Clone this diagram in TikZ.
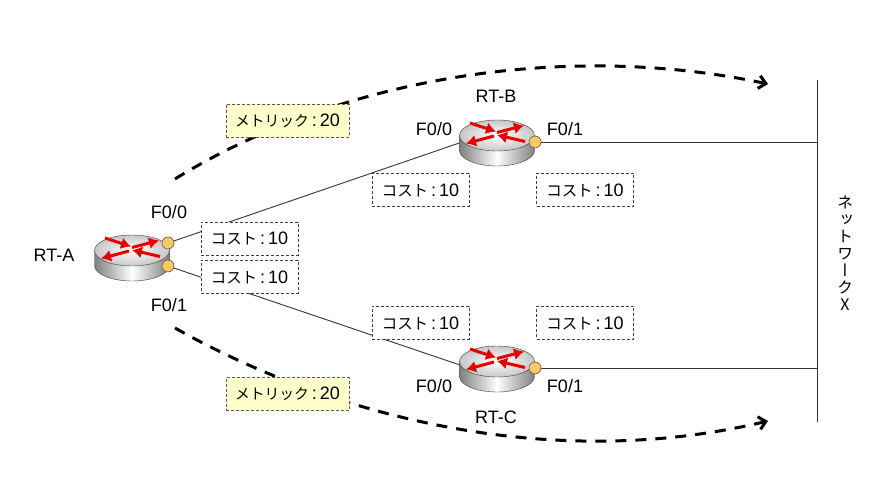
\documentclass[tikz,border=0pt]{standalone}
\usepackage{fontspec}
\setmainfont{Liberation Sans}
\newfontfamily\cjk[Scale=0.86]{Noto Sans CJK JP}
\newfontfamily\cjkm[Scale=0.82]{Noto Sans CJK JP}
\newfontfamily\cjkv[RawFeature=+vert]{Noto Sans CJK JP}
\usetikzlibrary{arrows.meta}
\definecolor{PortOrange}{RGB}{253,200,100}
\definecolor{NoteYellow}{RGB}{255,255,204}
\tikzset{
    every node/.style={font=\fontsize{18}{20}\selectfont},
    routerbox/.style={minimum width=75pt, minimum height=46pt, inner sep=0pt},
    port/.style={circle, draw=black!75, fill=PortOrange, minimum size=12pt, inner sep=0pt},
    link/.style={draw=black!80, line width=0.9pt},
    costbox/.style={draw=black!75, densely dashed, fill=white, minimum width=97pt, minimum height=33pt, inner sep=0pt},
    metricbox/.style={draw=black!65, densely dashed, fill=NoteYellow, minimum width=123pt, minimum height=33pt, inner sep=0pt},
    flow/.style={line width=3pt, dash pattern=on 11pt off 9pt, -{Straight Barb[length=7pt, width=13pt, line width=3pt]}},
    pics/router/.style={code={
        \draw[black!75, left color=black!50, right color=black!50, middle color=white]
            (-37.5,-7.5) -- (-37.5,7.5) arc[start angle=180, end angle=0, x radius=37.5, y radius=15.5]
            -- (37.5,-7.5) -- cycle;
        \draw[black!75, inner color=white, outer color=black!22] (0,-7.5) ellipse[x radius=37.5, y radius=15.5];
        \foreach \ax/\ay/\bx/\by in {-27/-20/-1/-11.5, 0/-10.5/27/-17.5, -3/-7/-31/0.5, 28/-1.5/0/-8}
            \draw[red!90!black, line width=3pt, -{Latex[length=10pt, width=12pt]}] (\ax,\ay) -- (\bx,\by);
    }},
}
\newcommand{\costtext}{{\cjk コスト}\,:\,10}
\newcommand{\metrictext}{{\cjkm メトリック}\,:\,20}
\begin{document}
\begin{tikzpicture}[x=1pt, y=-1pt]
    \useasboundingbox (0,0) rectangle (881,486);

    \node (rt-a) at (132,258)[routerbox] {};
    \node (rt-b) at (497,143)[routerbox] {};
    \node (rt-c) at (497,369)[routerbox] {};
    \coordinate (rt-c-in) at (460,365);
    \node (a-f0) at (168,243)[port] {};
    \node (a-f1) at (168,266)[port] {};
    \node (b-f1) at (535,142)[port] {};
    \node (c-f1) at (535,368)[port] {};

    \coordinate (net-top) at (817,80);
    \coordinate (net-bot) at (817,422);
    \coordinate (b-net) at (817,142);
    \coordinate (c-net) at (817,368);
    \coordinate (up-start) at (175,179);
    \coordinate (up-end) at (768,84);
    \coordinate (low-start) at (175,328);
    \coordinate (low-end) at (768,421);

    \draw[link] (net-top) -- (net-bot);
    \draw[link] (a-f0) -- (rt-b.west);
    \draw[link] (a-f1) -- (rt-c-in);
    \draw[link] (b-f1) -- (b-net);
    \draw[link] (c-f1) -- (c-net);

    \draw[flow] (up-start) .. controls (335,80) and (560,40) .. (up-end);
    \draw[flow] (low-start) .. controls (320,410) and (540,475) .. (low-end);

    \pic at (rt-a) {router};
    \pic at (rt-b) {router};
    \pic at (rt-c) {router};
    \node at (a-f0)[port] {};
    \node at (a-f1)[port] {};
    \node at (b-f1)[port] {};
    \node at (c-f1)[port] {};

    \node (cost-a0) at (249.5,238.5)[costbox] {\costtext};
    \node (cost-a1) at (249.5,277)[costbox] {\costtext};
    \node (cost-b0) at (420.5,190)[costbox] {\costtext};
    \node (cost-b1) at (585,190)[costbox] {\costtext};
    \node (cost-c0) at (420.5,323)[costbox] {\costtext};
    \node (cost-c1) at (585,323)[costbox] {\costtext};
    \node (metric-up) at (287.5,121)[metricbox] {\metrictext};
    \node (metric-low) at (287.5,394)[metricbox] {\metrictext};

    \node (label-a) at (54,255) {RT-A};
    \node (label-b) at (496,96) {RT-B};
    \node (label-c) at (496,417) {RT-C};
    \node (label-a0) at (169,212) {F0/0};
    \node (label-a1) at (169,305) {F0/1};
    \node (label-b0) at (434,129) {F0/0};
    \node (label-b1) at (565,129) {F0/1};
    \node (label-c0) at (434,386) {F0/0};
    \node (label-c1) at (565,386) {F0/1};
    \node (label-net) at (845,253)[align=center, font=\fontsize{16}{17}\selectfont\cjkv] {ネ\\ッ\\ト\\ワ\\ー\\ク\\X};
\end{tikzpicture}
\end{document}
